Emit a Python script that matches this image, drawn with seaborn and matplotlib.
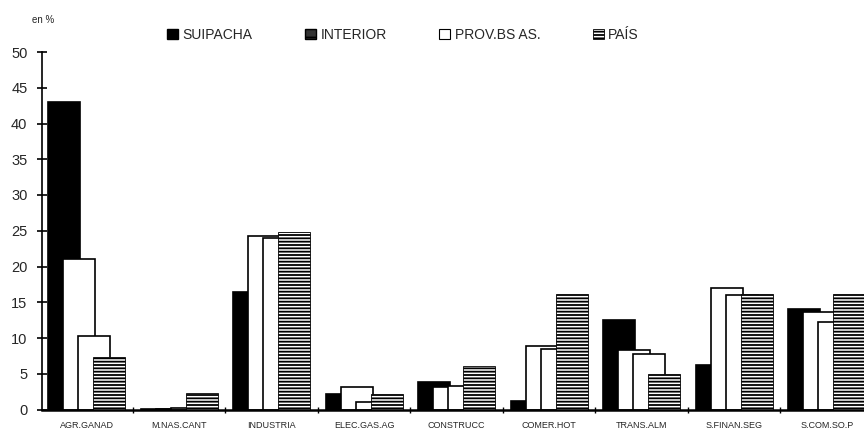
import numpy as np
import pandas as pd
import matplotlib
matplotlib.use("Agg")
import matplotlib.pyplot as plt
import seaborn as sns
from matplotlib.patches import Patch

# ---- data ----
sectores = ["AGR.GANAD", "M.NAS.CANT", "INDUSTRIA", "ELEC.GAS.AG", "CONSTRUCC",
            "COMER.HOT", "TRANS.ALM", "S.FINAN.SEG", "S.COM.SO.P"]
series = ["SUIPACHA", "INTERIOR", "PROV.BS AS.", "PAÍS"]
suipacha = [43.0, 0.1, 16.4, 2.2, 3.9, 1.2, 12.5, 6.2, 14.1]
interior = [21.0, 0.1, 24.2, 3.2, 3.2, 8.9, 8.3, 17.0, 13.6]
prov_bsas = [10.3, 0.2, 24.0, 1.0, 3.3, 8.5, 7.8, 16.0, 12.2]
pais = [7.3, 2.3, 24.8, 2.1, 6.1, 16.2, 5.0, 16.2, 16.2]
yticks = list(range(0, 51, 5))

df = pd.DataFrame({
    "sector": sectores * 4,
    "serie": [s for s in series for _ in sectores],
    "valor": suipacha + interior + prov_bsas + pais,
})

sns.set_theme(style="white")
plt.rcParams["font.family"] = ["Liberation Sans", "DejaVu Sans"]
plt.rcParams["hatch.linewidth"] = 1.3

fig = plt.figure(figsize=(8.64, 4.32), dpi=100)
ax = fig.add_axes([42 / 864, 1 - 409.5 / 432, 1 - 42 / 864, (409.5 - 52) / 432])

sns.barplot(data=df, x="sector", y="valor", hue="serie", order=sectores,
            hue_order=series, palette=["black", "white", "white", "white"],
            width=0.65, saturation=1, edgecolor="black", linewidth=1.2,
            errorbar=None, legend=False, ax=ax)

new_w = 0.346
for i, cont in enumerate(ax.containers):
    for p in cont.patches:
        w = p.get_width()
        p.set_x(p.get_x() - (new_w - w) / 2)
        p.set_width(new_w)
        if i == 3:
            p.set_hatch("-----")
            p.set_linewidth(0.6)

ax.set_xlim(-0.483, 8.403)
ax.set_ylim(0, 50)
ax.set_yticks(yticks)
ax.set_xlabel("")
ax.set_ylabel("")
for s in ["top", "right"]:
    ax.spines[s].set_visible(False)
ax.spines["left"].set_color("black")
ax.spines["left"].set_linewidth(1.2)
ax.spines["bottom"].set_color("black")
ax.spines["bottom"].set_linewidth(1.8)

ax.tick_params(axis="y", direction="inout", length=7, width=1.2, color="black",
               labelsize=10.5, pad=7, left=True)
ax.tick_params(axis="x", which="major", length=0, pad=8.5)
for lab in ax.get_xticklabels():
    lab.set_family(["Liberation Sans Narrow", "Liberation Sans", "DejaVu Sans"])
    lab.set_fontsize(6.5)
ax.set_xticks(np.arange(0.5, 8.5, 1.0), minor=True)
ax.tick_params(axis="x", which="minor", direction="inout", length=4, width=1,
               color="black", bottom=True)

fig.text(32 / 864, 1 - 20 / 432, "en %", fontsize=7, va="center", ha="left")

handles = [
    Patch(facecolor="black", edgecolor="black"),
    Patch(facecolor="#333333", edgecolor="black", hatch="--"),
    Patch(facecolor="white", edgecolor="black", linewidth=0.8),
    Patch(facecolor="white", edgecolor="black", hatch="-----", linewidth=0.6),
]
fig.legend(handles, series, loc="center left",
           bbox_to_anchor=(167 / 864, 1 - 35 / 432), ncol=4, frameon=False,
           fontsize=10, handlelength=0.8, handleheight=0.8, handletextpad=0.3,
           columnspacing=3.8, borderpad=0, borderaxespad=0)

fig.savefig("out.png", dpi=100)
